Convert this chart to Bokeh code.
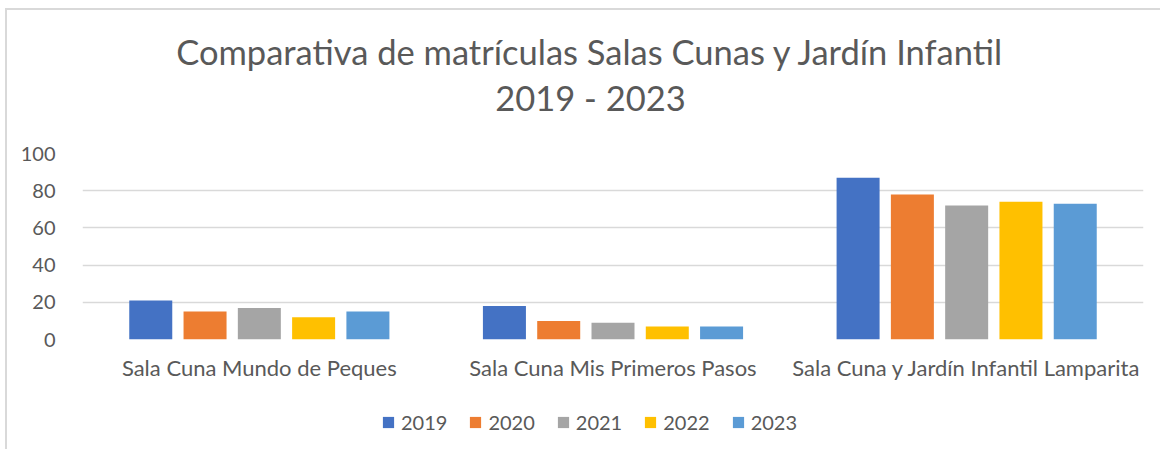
from bokeh.plotting import figure
from bokeh.models import FactorRange, Legend, LegendItem, ColumnDataSource, Range1d
from bokeh.transform import dodge
from bokeh.layouts import column
from bokeh.core.properties import value
from bokeh.embed import file_html
from bokeh.resources import INLINE

categories = ["Sala Cuna Mundo de Peques", "Sala Cuna Mis Primeros Pasos",
              "Sala Cuna y Jardín Infantil Lamparita"]
years = ["2019", "2020", "2021", "2022", "2023"]
v2019 = [21, 18, 87]
v2020 = [15, 10, 78]
v2021 = [17, 9, 72]
v2022 = [12, 7, 74]
v2023 = [15, 7, 73]
y_ticks = [0, 20, 40, 60, 80, 100]
title_lines = ["Comparativa de matrículas Salas Cunas y Jardín Infantil", "2019 - 2023"]

colors = ["#4472C4", "#ED7D31", "#A5A5A5", "#FFC000", "#5B9BD5"]
series = [v2019, v2020, v2021, v2022, v2023]

data = {"cat": categories}
for y, s in zip(years, series):
    data["y" + y] = s
source = ColumnDataSource(data)

FONT = "Lato"
GRAY = "#595959"
W = 1160
FL, FR = 82, 1143   # frame left / right in page pixels (shared by all rows)

HEAD_H = 139


def blank(h):
    f = figure(width=W, height=h, x_range=Range1d(FL, FR), y_range=Range1d(0, h),
               output_backend="svg", toolbar_location=None,
               min_border_left=FL, min_border_right=W - FR,
               min_border_top=0, min_border_bottom=0,
               border_fill_color=None, background_fill_color=None)
    f.axis.visible = False
    f.grid.visible = False
    f.outline_line_color = None
    f.title = None
    return f


# header with the two title lines
head = blank(HEAD_H)
head.text(x=[590, 590], y=[HEAD_H - 51, HEAD_H - 97], text=title_lines,
          text_font=value(FONT), text_font_size="34.5px", text_color=GRAY,
          text_align="center", text_baseline="middle")

# main chart
p = figure(width=W, height=261, x_range=FactorRange(*categories, range_padding=0),
           y_range=(0, 100), output_backend="svg", toolbar_location=None,
           min_border_left=FL, min_border_right=W - FR, min_border_top=14, min_border_bottom=61,
           border_fill_color=None, background_fill_color=None)
p.title = None
p.outline_line_color = None

pitch = 0.1535
bw = 0.1216
for i, (y, c) in enumerate(zip(years, colors)):
    p.vbar(x=dodge("cat", pitch * (i - 2), range=p.x_range), top="y" + y, width=bw,
           source=source, fill_color=c, line_color=None)

p.xgrid.grid_line_color = None
p.ygrid.grid_line_color = "#d9d9d9"
p.ygrid.grid_line_width = 1.5
p.yaxis.ticker = y_ticks
for ax in (p.xaxis[0], p.yaxis[0]):
    ax.axis_line_color = None
    ax.major_tick_line_color = None
    ax.minor_tick_line_color = None
    ax.major_label_text_font = FONT
    ax.major_label_text_color = GRAY
p.yaxis.major_label_text_font_size = "20px"
p.yaxis.major_label_standoff = 21
p.xaxis.major_label_text_font_size = "22px"
p.xaxis.major_label_standoff = 8

# legend strip
leg = blank(49)
items = []
for y, c in zip(years, colors):
    r = leg.rect(x=[-100], y=[-100], width=1, height=1, fill_color=c, line_color=None)
    items.append(LegendItem(label=y, renderers=[r]))
legend = Legend(items=items, orientation="horizontal", location=(381 - FL, 15),
                label_text_font=FONT, label_text_font_size="20px", label_text_color=GRAY,
                glyph_width=14, glyph_height=14, label_standoff=6, spacing=21,
                border_line_color=None, background_fill_alpha=0, margin=0, padding=4)
leg.add_layout(legend)

layout = column(head, p, leg, spacing=0,
                styles={"background-color": "white",
                        "box-shadow": "inset 5px 8px 0 0 white, inset 7px 10px 0 0 #d9d9d9"})
open("out.html", "w").write(file_html(layout, INLINE))
